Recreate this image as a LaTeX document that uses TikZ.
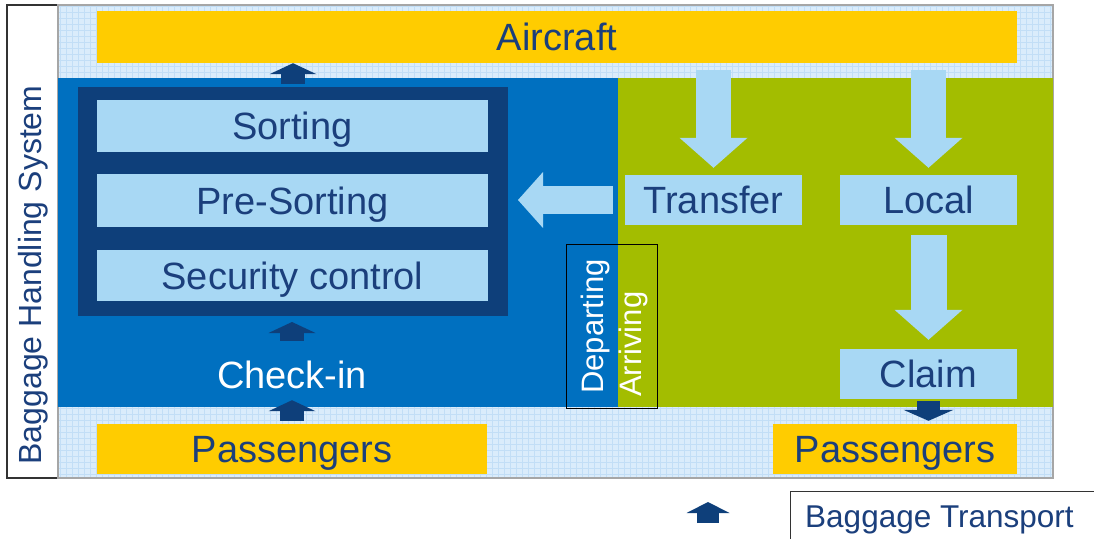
\documentclass[tikz,border=0pt]{standalone}
\usepackage{fontspec}
\setmainfont{Liberation Sans}
\usetikzlibrary{arrows.meta,positioning,calc}
\definecolor{gold}{HTML}{FFCC00}
\definecolor{depblue}{HTML}{0070C0}
\definecolor{navy}{HTML}{0E3F7A}
\definecolor{pale}{HTML}{A8D8F4}
\definecolor{olive}{HTML}{A3BD00}
\definecolor{txtblue}{HTML}{1B3F7C}
\definecolor{gridbg}{HTML}{DAECFB}
\definecolor{gridln}{HTML}{C2DEF6}

\begin{document}
\begin{tikzpicture}[x=1pt,y=-1pt,
  lbl/.style={font=\fontsize{38}{40}\selectfont,text=txtblue,text height=27pt,text depth=0pt,inner sep=0pt},
  boxy/.style={lbl,fill=pale,minimum height=52pt},
  yel/.style={lbl,fill=gold,minimum height=50pt},
  region/.style={anchor=north west,inner sep=0pt,outer sep=0pt},
  bigarr/.style={pale,line width=35pt,-{Triangle[length=30pt,width=68pt,line width=0pt]}},
  smallarr/.style={navy,line width=24pt,-{Triangle[length=11pt,width=47pt,line width=0pt]}}]
\clip (0,0) rectangle (1094,538);
% frame and background
\node[region,fill=white,draw=black!80,line width=1.2pt,minimum width=51pt,minimum height=473pt] (bhs) at (7,5) {};
\node[font=\fontsize{32}{34}\selectfont,text=txtblue,rotate=90,inner sep=0pt] (bhslabel) at (33,275) {Baggage Handling System};
\node[region,fill=gridbg,minimum width=995pt,minimum height=473pt] (area) at (58,5) {};
\draw[gridln,line width=0.8pt,step=6pt] (area.north west) grid (area.south east);
\draw[gray!70,line width=1.5pt] (area.north west) rectangle (area.south east);
\node[region,fill=depblue,minimum width=560pt,minimum height=329pt] (depzone) at (58,78) {};
\node[region,fill=olive,minimum width=435pt,minimum height=329pt] (arrzone) at (618,78) {};
\node[region,fill=navy,minimum width=430pt,minimum height=229pt] (frame) at (78,87) {};
% boxes
\node[yel,minimum width=920pt,minimum height=52pt] (aircraft) at (557,37) {Aircraft};
\node[boxy,minimum width=391pt] (sorting) at (292.5,126) {Sorting};
\node[boxy,minimum width=391pt,minimum height=53pt] (presort) at (292.5,200.5) {Pre-Sorting};
\node[boxy,minimum width=391pt,minimum height=51pt] (security) at (292.5,275.5) {Security control};
\node[boxy,minimum width=177pt,minimum height=50pt] (transfer) at (713.5,200) {Transfer};
\node[boxy,minimum width=177pt,minimum height=50pt] (local) at (928.5,200) {Local};
\node[boxy,minimum width=177pt,minimum height=50pt] (claim) at (928.5,374) {Claim};
\node[lbl,text=white,minimum height=40pt] (checkin) at (292,375) {Check-in};
\node[yel,minimum width=390pt] (paxdep) at (292,449) {Passengers};
\node[yel,minimum width=244pt] (paxarr) at (895,449) {Passengers};
% departing / arriving
\node[region,draw=black,line width=1pt,minimum width=91pt,minimum height=164pt] (dirbox) at (566,244) {};
\node[font=\fontsize{31}{33}\selectfont,text=white,rotate=90,anchor=west,inner sep=0pt] (deplbl) at (595,394) {Departing};
\node[font=\fontsize{31}{33}\selectfont,text=white,rotate=90,anchor=west,inner sep=0pt] (arrlbl) at (633,397) {Arriving};
% flows
\draw[bigarr,shorten <=7pt,shorten >=7pt] (aircraft.south -| transfer.north) -- (transfer.north);
\draw[bigarr,shorten <=7pt,shorten >=7pt] (aircraft.south -| local.north) -- (local.north);
\draw[bigarr,line width=36pt,shorten <=10pt,shorten >=9pt] (local.south) -- (claim.north);
\draw[bigarr,line width=28pt,-{Triangle[length=25pt,width=56pt,line width=0pt]},shorten <=12pt,shorten >=10pt] (transfer.west) -- (frame.east |- transfer.west);
\draw[smallarr,shorten <=3pt] (frame.north) -- (frame.north |- aircraft.south);
\draw[smallarr,shorten <=14pt,shorten >=6pt] (checkin.north) -- (frame.south -| checkin.north);
\draw[smallarr,shorten <=3pt,shorten >=5pt] (paxdep.north) -- (checkin.south);
\draw[smallarr,line width=23pt,-{Triangle[length=11pt,width=50pt,line width=0pt]},shorten <=2pt,shorten >=3pt] (claim.south) -- (claim.south |- paxarr.north);
% legend
\node[region,fill=white,draw=black!80,line width=1pt,minimum width=320pt,minimum height=60pt] (legbox) at (790,491) {};
\node[font=\fontsize{31.5}{33}\selectfont,text=txtblue,anchor=base west,inner sep=0pt] (legtxt) at (805,527) {Baggage Transport};
\coordinate (legfoot) at (708,523);
\coordinate (leghead) at (708,502);
\draw[smallarr,line width=22pt,-{Triangle[length=11pt,width=43pt,line width=0pt]}] (legfoot) -- (leghead);
\end{tikzpicture}
\end{document}
